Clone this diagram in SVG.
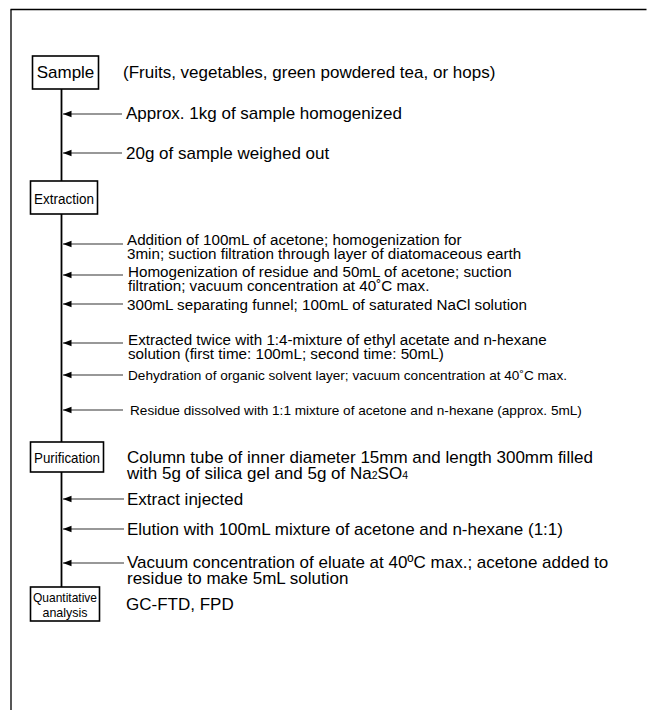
<svg xmlns="http://www.w3.org/2000/svg" width="647" height="710" viewBox="0 0 647 710">
<style>
.t{font-family:"Liberation Sans",Arial,sans-serif;fill:#000}
.l{font-size:17px}
.m{font-size:15.2px}
.s{font-size:13.6px}
.box{fill:#fff;stroke:#000;stroke-width:1.6}
.ln{stroke:#000;stroke-width:1.8;fill:none}
.ar{stroke:#333;stroke-width:1.2;fill:none;marker-end:url(#ah)}
</style>
<defs>
<marker id="ah" markerWidth="9" markerHeight="8" refX="8.5" refY="4" orient="auto" markerUnits="userSpaceOnUse">
<path d="M0,0.8 L8.5,4 L0,7.2 Z" fill="#000"/>
</marker>
</defs>
<rect width="647" height="710" fill="#fff"/>
<path d="M11,710 V9.5" stroke="#444" stroke-width="1.8" fill="none"/>
<path d="M10.5,9.5 H646.5" stroke="#000" stroke-width="1.6" fill="none"/>
<g id="connectors">
<line class="ln" x1="61.5" y1="89" x2="61.5" y2="181"/>
<line class="ln" x1="61.5" y1="214" x2="61.5" y2="442"/>
<line class="ln" x1="61.5" y1="472" x2="61.5" y2="587"/>
<line class="ar" x1="122" y1="114" x2="63" y2="114"/>
<line class="ar" x1="122" y1="153" x2="63" y2="153"/>
<line class="ar" x1="123" y1="244" x2="63" y2="244"/>
<line class="ar" x1="123" y1="275" x2="63" y2="275"/>
<line class="ar" x1="123" y1="304" x2="63" y2="304"/>
<line class="ar" x1="123" y1="343" x2="63" y2="343"/>
<line class="ar" x1="123" y1="375" x2="63" y2="375"/>
<line class="ar" x1="123" y1="410" x2="63" y2="410"/>
<line class="ar" x1="124" y1="499" x2="63" y2="499"/>
<line class="ar" x1="124" y1="529" x2="63" y2="529"/>
<line class="ar" x1="124" y1="563" x2="63" y2="563"/>
</g>
<g id="sample">
<rect class="box" x="32.5" y="56" width="66" height="33"/>
<text class="t l" x="65.5" y="78" text-anchor="middle">Sample</text>
</g>
<g id="sample-note">
<text class="t l" x="123" y="78">(Fruits, vegetables, green powdered tea, or hops)</text>
</g>
<g id="step-homogenize">
<text class="t l" x="126" y="119">Approx. 1kg of sample homogenized</text>
</g>
<g id="step-weigh">
<text class="t l" x="126" y="159">20g of sample weighed out</text>
</g>
<g id="extraction">
<rect class="box" x="30.5" y="181" width="67" height="33"/>
<text class="t m" x="64" y="203.5" text-anchor="middle" textLength="60" lengthAdjust="spacingAndGlyphs">Extraction</text>
</g>
<g id="step-acetone">
<text class="t m" x="127" y="245">Addition of 100mL of acetone; homogenization for</text>
<text class="t m" x="127" y="259">3min; suction filtration through layer of diatomaceous earth</text>
</g>
<g id="step-residue">
<text class="t m" x="128" y="277">Homogenization of residue and 50mL of acetone; suction</text>
<text class="t m" x="128" y="291">filtration; vacuum concentration at 40˚C max.</text>
</g>
<g id="step-funnel">
<text class="t m" x="127" y="310">300mL separating funnel; 100mL of saturated NaCl solution</text>
</g>
<g id="step-extract-twice">
<text class="t m" x="128" y="345">Extracted twice with 1:4-mixture of ethyl acetate and n-hexane</text>
<text class="t m" x="128" y="359">solution (first time: 100mL; second time: 50mL)</text>
</g>
<g id="step-dehydration">
<text class="t s" x="128" y="380">Dehydration of organic solvent layer; vacuum concentration at 40˚C max.</text>
</g>
<g id="step-dissolve">
<text class="t s" x="130" y="415">Residue dissolved with 1:1 mixture of acetone and n-hexane (approx. 5mL)</text>
</g>
<g id="purification">
<rect class="box" x="30.5" y="442" width="73" height="30"/>
<text class="t" style="font-size:15px" x="67" y="463" text-anchor="middle" textLength="66" lengthAdjust="spacingAndGlyphs">Purification</text>
</g>
<g id="column-note">
<text class="t l" x="127" y="463">Column tube of inner diameter 15mm and length 300mm filled</text>
<text class="t l" x="127" y="479">with 5g of silica gel and 5g of Na<tspan style="font-size:10.5px">2</tspan>SO<tspan style="font-size:10.5px">4</tspan></text>
</g>
<g id="step-inject">
<text class="t l" x="127" y="505">Extract injected</text>
</g>
<g id="step-elution">
<text class="t l" x="127" y="535">Elution with 100mL mixture of acetone and n-hexane (1:1)</text>
</g>
<g id="step-vacuum">
<text class="t l" x="127" y="568">Vacuum concentration of eluate at 40ºC max.; acetone added to</text>
<text class="t l" x="127" y="584">residue to make 5mL solution</text>
</g>
<g id="quantitative">
<rect class="box" x="30.5" y="587" width="69" height="34"/>
<text class="t" style="font-size:13.5px" x="65" y="602" text-anchor="middle" textLength="64" lengthAdjust="spacingAndGlyphs">Quantitative</text>
<text class="t" style="font-size:13.5px" x="65" y="616.5" text-anchor="middle" textLength="45" lengthAdjust="spacingAndGlyphs">analysis</text>
</g>
<g id="detector">
<text class="t l" x="126" y="610">GC-FTD, FPD</text>
</g>
</svg>
